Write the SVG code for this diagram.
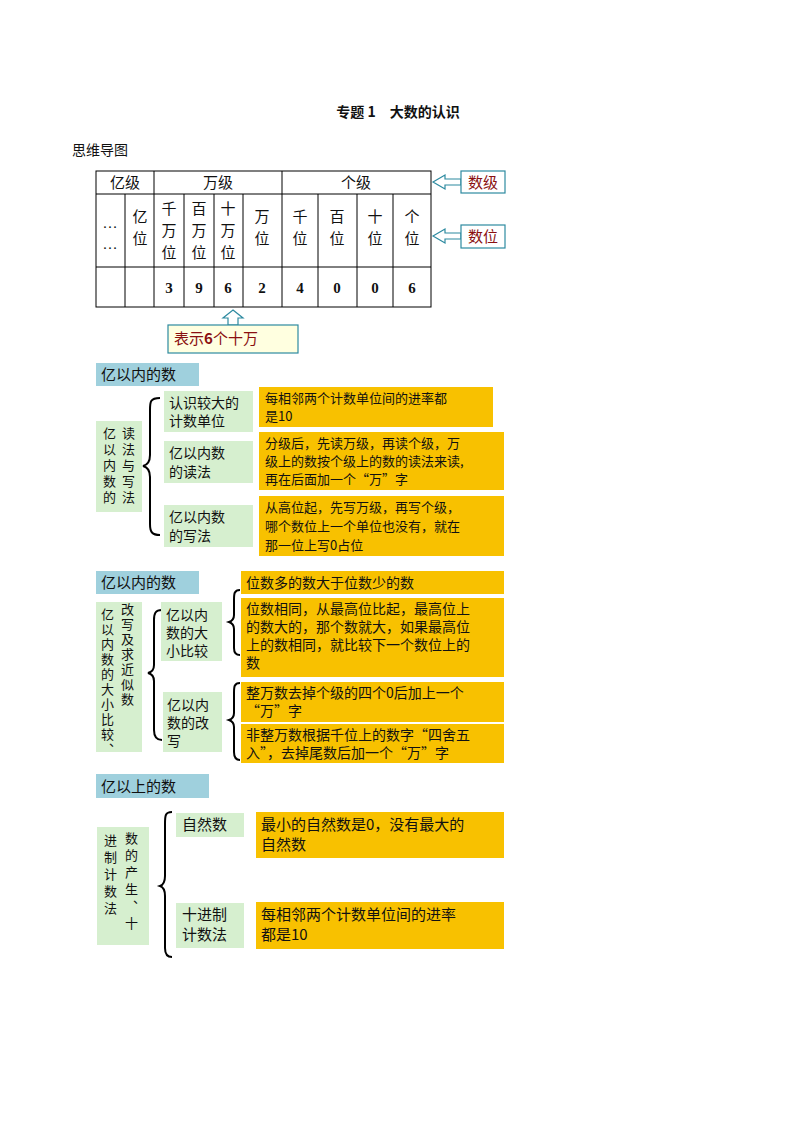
<svg xmlns="http://www.w3.org/2000/svg" width="794" height="1123" viewBox="0 0 794 1123">
<style>
text{font-family:"Noto Sans CJK SC","Liberation Sans",sans-serif;font-size:14px;fill:#111}
.s{font-family:"Liberation Serif","Noto Sans CJK SC",serif;font-size:15px}
.tb{fill:none;stroke:#000;stroke-width:1}
.h{fill:#9fd0dd}
.g{fill:#d6efcf}
.o{fill:#f8c100}
.br{fill:none;stroke:#000;stroke-width:2}
.red{fill:#8a1010;font-size:15px}
.ar{fill:#fff;stroke:#2d8aa0;stroke-width:1.2}
.vt{font-size:13px;writing-mode:vertical-rl}
</style>
<rect width="794" height="1123" fill="#fff"/>
<text x="398" y="117" text-anchor="middle" style="font-weight:bold;font-size:14px">专题 1　大数的认识</text>
<text x="72" y="155">思维导图</text>

<g id="table">
<rect class="tb" x="96" y="171" width="335" height="136"/>
<line class="tb" x1="96" y1="194" x2="431" y2="194"/>
<line class="tb" x1="96" y1="267" x2="431" y2="267"/>
<line class="tb" x1="154" y1="171" x2="154" y2="307"/>
<line class="tb" x1="282" y1="171" x2="282" y2="307"/>
<line class="tb" x1="125" y1="194" x2="125" y2="307"/>
<line class="tb" x1="184" y1="194" x2="184" y2="307"/>
<line class="tb" x1="214" y1="194" x2="214" y2="307"/>
<line class="tb" x1="243" y1="194" x2="243" y2="307"/>
<line class="tb" x1="318" y1="194" x2="318" y2="307"/>
<line class="tb" x1="357" y1="194" x2="357" y2="307"/>
<line class="tb" x1="393" y1="194" x2="393" y2="307"/>
<text class="s" x="125" y="188" text-anchor="middle">亿级</text>
<text class="s" x="218" y="188" text-anchor="middle">万级</text>
<text class="s" x="356" y="188" text-anchor="middle">个级</text>
<text class="s" x="110" y="228" text-anchor="middle">…</text>
<text class="s" x="110" y="249" text-anchor="middle">…</text>
<text class="s" x="140" y="222" text-anchor="middle">亿</text><text class="s" x="140" y="244" text-anchor="middle">位</text>
<text class="s" x="169" y="214" text-anchor="middle">千</text><text class="s" x="169" y="236" text-anchor="middle">万</text><text class="s" x="169" y="258" text-anchor="middle">位</text>
<text class="s" x="199" y="214" text-anchor="middle">百</text><text class="s" x="199" y="236" text-anchor="middle">万</text><text class="s" x="199" y="258" text-anchor="middle">位</text>
<text class="s" x="228" y="214" text-anchor="middle">十</text><text class="s" x="228" y="236" text-anchor="middle">万</text><text class="s" x="228" y="258" text-anchor="middle">位</text>
<text class="s" x="262" y="222" text-anchor="middle">万</text><text class="s" x="262" y="244" text-anchor="middle">位</text>
<text class="s" x="300" y="222" text-anchor="middle">千</text><text class="s" x="300" y="244" text-anchor="middle">位</text>
<text class="s" x="337" y="222" text-anchor="middle">百</text><text class="s" x="337" y="244" text-anchor="middle">位</text>
<text class="s" x="375" y="222" text-anchor="middle">十</text><text class="s" x="375" y="244" text-anchor="middle">位</text>
<text class="s" x="412" y="222" text-anchor="middle">个</text><text class="s" x="412" y="244" text-anchor="middle">位</text>
<text class="s" x="169" y="293" text-anchor="middle" font-weight="bold">3</text>
<text class="s" x="199" y="293" text-anchor="middle" font-weight="bold">9</text>
<text class="s" x="228" y="293" text-anchor="middle" font-weight="bold">6</text>
<text class="s" x="262" y="293" text-anchor="middle" font-weight="bold">2</text>
<text class="s" x="300" y="293" text-anchor="middle" font-weight="bold">4</text>
<text class="s" x="337" y="293" text-anchor="middle" font-weight="bold">0</text>
<text class="s" x="375" y="293" text-anchor="middle" font-weight="bold">0</text>
<text class="s" x="412" y="293" text-anchor="middle" font-weight="bold">6</text>
</g>

<g id="connectors">
<path class="ar" d="M433,182 L445,175 L445,179 L461,179 L461,185 L445,185 L445,189 Z"/>
<path class="ar" d="M433,236 L445,229 L445,233 L461,233 L461,239 L445,239 L445,243 Z"/>
<path class="ar" d="M233,310 L243,318 L238,318 L238,325 L228,325 L228,318 L223,318 Z"/>
<path class="br" d="M160,398 C150,398 150,402 150,410 L150,455 C150,462 147,465 143,466 C147,467 150,470 150,477 L150,524 C150,532 152,535 160,535"/>
<path class="br" d="M162,610 C155,610 154,614 154,620 L154,665 C154,670 152,672 148,673 C152,674 154,676 154,681 L154,730 C154,736 156,740 162,740"/>
<path class="br" d="M240,590 C234,590 234,594 234,600 L234,615 C234,619 232,621 229,622 C232,623 234,625 234,629 L234,648 C234,652 236,655 240,655"/>
<path class="br" d="M240,683 C234,683 234,687 234,693 L234,713 C234,717 232,719 229,720 C232,721 234,723 234,727 L234,752 C234,757 236,760 240,760"/>
<path class="br" d="M172,812 C165,812 165,816 165,824 L165,876 C165,882 163,885 160,886 C163,887 165,890 165,896 L165,948 C165,954 167,957 172,957"/>
</g>

<g id="n-shuji"><rect class="ar" x="461" y="171" width="44" height="22"/><text class="red" x="483" y="188" text-anchor="middle">数级</text></g>
<g id="n-shuwei"><rect class="ar" x="461" y="225" width="44" height="23"/><text class="red" x="483" y="242" text-anchor="middle">数位</text></g>
<g id="n-note"><rect x="168" y="325" width="130" height="28" fill="#ffffe0" stroke="#2d8aa0" stroke-width="1.2"/><text class="red" x="174" y="344">表示<tspan font-weight="bold">6</tspan>个十万</text></g>

<g id="s1-title"><rect class="h" x="96" y="363" width="103" height="23"/><text x="101" y="380" style="font-size:15px">亿以内的数</text></g>
<g id="s1-left"><rect class="g" x="96" y="421" width="46" height="91"/>
<text class="vt" x="109.5" y="427" letter-spacing="3">亿以内数的</text>
<text class="vt" x="128.5" y="427" letter-spacing="3">读法与写法</text></g>
<g id="s1-a"><rect class="g" x="164" y="391" width="89" height="41"/><text x="169" y="408">认识较大的</text><text x="169" y="426">计数单位</text></g>
<g id="s1-b"><rect class="g" x="164" y="441" width="89" height="42"/><text x="169" y="458">亿以内数</text><text x="169" y="477">的读法</text></g>
<g id="s1-c"><rect class="g" x="164" y="505" width="89" height="42"/><text x="169" y="522">亿以内数</text><text x="169" y="541">的写法</text></g>
<g id="s1-oa"><rect class="o" x="259" y="387" width="234" height="40"/><text x="265" y="403" style="font-size:13px">每相邻两个计数单位间的进率都</text><text x="265" y="421" style="font-size:13px">是10</text></g>
<g id="s1-ob"><rect class="o" x="259" y="432" width="245" height="58"/><text x="265" y="448" style="font-size:13px">分级后，先读万级，再读个级，万</text><text x="265" y="466" style="font-size:13px">级上的数按个级上的数的读法来读,</text><text x="265" y="484" style="font-size:13px">再在后面加一个“万”字</text></g>
<g id="s1-oc"><rect class="o" x="259" y="496" width="245" height="60"/><text x="265" y="512" style="font-size:13px">从高位起，先写万级，再写个级，</text><text x="265" y="531" style="font-size:13px">哪个数位上一个单位也没有，就在</text><text x="265" y="550" style="font-size:13px">那一位上写0占位</text></g>

<g id="s2-title"><rect class="h" x="96" y="571" width="103" height="23"/><text x="101" y="588" style="font-size:15px">亿以内的数</text></g>
<g id="s2-left"><rect class="g" x="96" y="602" width="46" height="150"/>
<text class="vt" x="107.5" y="608" letter-spacing="2">亿以内数的大小比较、</text>
<text class="vt" x="127.5" y="603" letter-spacing="2">改写及求近似数</text></g>
<g id="s2-a"><rect class="g" x="161" y="602" width="61" height="59"/><g style="font-size:15px"><text x="166" y="620">亿以内</text><text x="166" y="638">数的大</text><text x="166" y="656">小比较</text></g></g>
<g id="s2-b"><rect class="g" x="163" y="692" width="59" height="60"/><g style="font-size:15px"><text x="167" y="710">亿以内</text><text x="167" y="728">数的改</text><text x="167" y="746">写</text></g></g>
<g id="s2-oa"><rect class="o" x="241" y="571" width="263" height="23"/><text x="246" y="588">位数多的数大于位数少的数</text></g>
<g id="s2-ob"><rect class="o" x="241" y="598" width="263" height="79"/><text x="246" y="614">位数相同，从最高位比起，最高位上</text><text x="246" y="632">的数大的，那个数就大，如果最高位</text><text x="246" y="650">上的数相同，就比较下一个数位上的</text><text x="246" y="668">数</text></g>
<g id="s2-oc"><rect class="o" x="241" y="682" width="263" height="40"/><text x="246" y="698">整万数去掉个级的四个0后加上一个</text><text x="246" y="716">“万”字</text></g>
<g id="s2-od"><rect class="o" x="241" y="724" width="263" height="39"/><text x="246" y="740">非整万数根据千位上的数字“四舍五</text><text x="246" y="758">入”，去掉尾数后加一个“万”字</text></g>

<g id="s3-title"><rect class="h" x="96" y="774" width="113" height="24"/><text x="101" y="792" style="font-size:15px">亿以上的数</text></g>
<g id="s3-left"><rect class="g" x="97" y="827" width="52" height="118"/>
<text class="vt" x="110.5" y="834" letter-spacing="4">进制计数法</text>
<text class="vt" x="131.5" y="832" letter-spacing="4">数的产生、十</text></g>
<g id="s3-a"><rect class="g" x="176" y="813" width="68" height="24"/><text x="182" y="830" style="font-size:15px">自然数</text></g>
<g id="s3-b"><rect class="g" x="176" y="903" width="68" height="45"/><text x="182" y="920" style="font-size:15px">十进制</text><text x="182" y="940" style="font-size:15px">计数法</text></g>
<g id="s3-oa"><rect class="o" x="256" y="812" width="248" height="46"/><text x="261" y="830" style="font-size:15px">最小的自然数是0，没有最大的</text><text x="261" y="850" style="font-size:15px">自然数</text></g>
<g id="s3-ob"><rect class="o" x="256" y="902" width="248" height="47"/><text x="261" y="920" style="font-size:15px">每相邻两个计数单位间的进率</text><text x="261" y="940" style="font-size:15px">都是10</text></g>
</svg>
